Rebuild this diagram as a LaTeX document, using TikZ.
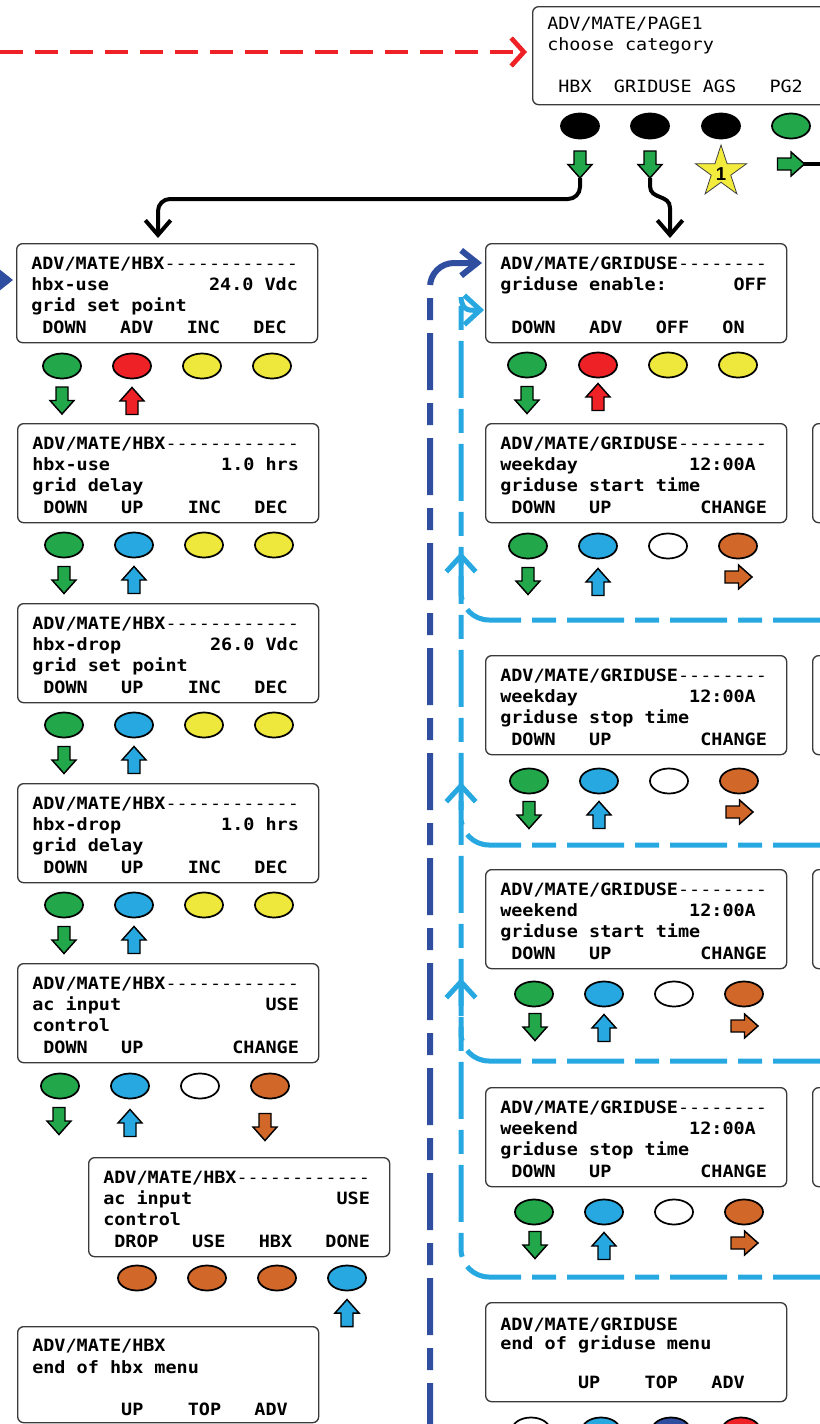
\documentclass[tikz,border=0pt]{standalone}
\usepackage{fontspec}
\setmonofont[FakeStretch=1.09]{DejaVu Sans Mono}
\newfontfamily\starfont{Liberation Sans}
\usetikzlibrary{arrows.meta,shapes.geometric}
\definecolor{cgreen}{HTML}{22A84A}
\definecolor{cred}{HTML}{EE2226}
\definecolor{cyellow}{HTML}{EFE83C}
\definecolor{cblue}{HTML}{27A8E0}
\definecolor{corange}{HTML}{D2672A}
\definecolor{cdblue}{HTML}{2F4E9F}
\definecolor{cbox}{HTML}{3A3A3A}
\definecolor{cstar}{HTML}{F3EC3D}
\tikzset{
  lcd/.style={draw=cbox, line width=1pt, rounded corners=4.5pt, fill=white, minimum width=225.75pt, minimum height=74.25pt, inner sep=0pt, anchor=north west},
  txt/.style={font=\ttfamily\bfseries\fontsize{12.7}{15}\selectfont, inner sep=0pt, anchor=base west},
  txtr/.style={font=\ttfamily\fontsize{12.7}{15}\selectfont, inner sep=0pt, anchor=base west},
  btn/.style={ellipse, draw=black, line width=1.3pt, minimum width=28.5pt, minimum height=18.75pt, inner sep=0pt},
  ba/.style={draw=black, line width=1.1pt, line join=miter},
  conn/.style={draw=black, line width=3pt, -{Straight Barb[length=11pt,width=19pt]}},
  reddash/.style={draw=cred, line width=3.5pt, dash pattern=on 17.25pt off 9pt, -{Straight Barb[length=9.5pt,width=21pt]}},
  dbdash/.style={draw=cdblue, line width=4.5pt, dash pattern=on 42.75pt off 9.75pt on 16.5pt off 9.75pt, -{Straight Barb[length=12pt,width=19pt]}},
  lbdash/.style={draw=cblue, line width=3.75pt, dash pattern=on 42.75pt off 8.25pt on 18pt off 8.25pt, -{Straight Barb[length=12pt,width=22pt]}},
}
\newcommand\lcdfour[7]{%
  \node[lcd] (#1) at (#2,#3) {};
  \node[txt] (#1-a) at (#2+15,#3+26) {#4};
  \node[txt] (#1-b) at (#2+15,#3+47) {#5};
  \node[txt] (#1-c) at (#2+15,#3+68) {#6};
  \node[txt] (#1-d) at (#2+15,#3+90) {#7};}
\newcommand\lcdbtn[4]{\node[btn, fill=#4] (#1) at (#2,#3) {};}
\newcommand\barr[4]{\draw[ba, fill=#4, shift={(#1,#2)}, rotate=#3] (-6,-13.5) -- (6,-13.5) -- (6,0) -- (12,0) -- (0,13.5) -- (-12,0) -- (-6,0) -- cycle;}
\begin{document}
\begin{tikzpicture}[x=0.75pt,y=-0.75pt]
\path[use as bounding box] (0,0) rectangle (820,1424);
\clip (0,0) rectangle (820,1424);

% ---------- connectors ----------
\coordinate (redS) at (0,52);
\coordinate (redE) at (527,52);
\draw[reddash] (redS) -- (redE);

\coordinate (dbS) at (430,1440);
\coordinate (g1db) at (482,263);
\draw[dbdash, rounded corners=18pt] (dbS) |- (g1db);
\coordinate (dbL) at (-25,280);
\coordinate (h1db) at (13,280);
\draw[dbdash] (dbL) -- (h1db);

\coordinate (lb1) at (830,620);  \coordinate (lb1e) at (461,552);
\coordinate (lb2) at (830,845);  \coordinate (lb2e) at (461,782);
\coordinate (lb3) at (830,1061); \coordinate (lb3e) at (461,978);
\coordinate (lb4) at (830,1277); \coordinate (lbtop) at (461,324);
\coordinate (g1lb) at (484,310);
\draw[lbdash, rounded corners=21pt] (lb1) -| (lb1e);
\draw[lbdash, rounded corners=21pt] (lb2) -| (lb2e);
\draw[lbdash, rounded corners=21pt] (lb3) -| (lb3e);
\draw[lbdash, rounded corners=21pt] (lb4) -| (lbtop) to[out=90,in=180] (g1lb);

\coordinate (ahbx) at (580,178);
\coordinate (h1in) at (158,238);
\draw[conn, rounded corners=9pt] (ahbx) |- (158,199) -- (h1in);
\coordinate (agu) at (650,178);
\coordinate (g1in) at (670,238);
\draw[conn] (agu) -- (650,186) .. controls (650,200) and (670,194) .. (670,208) -- (g1in);
\coordinate (apg2) at (803,164);
\coordinate (pg2out) at (830,164);
\draw[draw=black, line width=3pt] (apg2) -- (pg2out);

% ---------- top menu ----------
\node[lcd, minimum height=73.5pt] (p1) at (532,6) {};
\node[txtr] (p1-a) at (547,29) {ADV/MATE/PAGE1};
\node[txtr] (p1-b) at (547,50) {choose~category};
\node[txtr] (p1-d) at (547,92) {~HBX~~GRIDUSE~AGS~~~PG2};
\lcdbtn{p1b1}{580}{126}{black}
\lcdbtn{p1b2}{650}{126}{black}
\lcdbtn{p1b3}{721}{126}{black}
\lcdbtn{p1b4}{791}{126}{cgreen}
\barr{580}{164.5}{0}{cgreen}
\barr{650}{164.5}{0}{cgreen}
\barr{791}{164}{90}{cgreen}
\draw[fill=cstar, draw=black!75, line width=0.6pt, shift={(721,172)}] (-90:27) -- (-54:10.3) -- (-18:27) -- (18:10.3) -- (54:27) -- (90:10.3) -- (126:27) -- (162:10.3) -- (198:27) -- (234:10.3) -- cycle;
\node[font=\starfont\bfseries\fontsize{14}{14}\selectfont, inner sep=0pt] (star1) at (721,174) {1};

% ---------- HBX column ----------
\lcdfour{h1}{16}{243}{ADV/MATE/HBX{\mdseries ------------}}{hbx-use~~~~~~~~~24.0~Vdc}{grid~set~point}{~DOWN~~~ADV~~~INC~~~DEC}
\lcdbtn{h1b1}{62}{366}{cgreen}
\lcdbtn{h1b2}{132}{366}{cred}
\lcdbtn{h1b3}{202}{366}{cyellow}
\lcdbtn{h1b4}{272}{366}{cyellow}
\barr{62}{400.5}{0}{cgreen}
\barr{132}{401}{180}{cred}

\lcdfour{h2}{17}{423}{ADV/MATE/HBX{\mdseries ------------}}{hbx-use~~~~~~~~~~1.0~hrs}{grid~delay}{~DOWN~~~UP~~~~INC~~~DEC}
\lcdbtn{h2b1}{64}{545}{cgreen}
\lcdbtn{h2b2}{134}{545}{cblue}
\lcdbtn{h2b3}{204}{545}{cyellow}
\lcdbtn{h2b4}{274}{545}{cyellow}
\barr{64}{580}{0}{cgreen}
\barr{134}{580}{180}{cblue}

\lcdfour{h3}{17}{603}{ADV/MATE/HBX{\mdseries ------------}}{hbx-drop~~~~~~~~26.0~Vdc}{grid~set~point}{~DOWN~~~UP~~~~INC~~~DEC}
\lcdbtn{h3b1}{64}{725}{cgreen}
\lcdbtn{h3b2}{134}{725}{cblue}
\lcdbtn{h3b3}{204}{725}{cyellow}
\lcdbtn{h3b4}{274}{725}{cyellow}
\barr{64}{760}{0}{cgreen}
\barr{134}{760}{180}{cblue}

\lcdfour{h4}{17}{783}{ADV/MATE/HBX{\mdseries ------------}}{hbx-drop~~~~~~~~~1.0~hrs}{grid~delay}{~DOWN~~~UP~~~~INC~~~DEC}
\lcdbtn{h4b1}{64}{905}{cgreen}
\lcdbtn{h4b2}{134}{905}{cblue}
\lcdbtn{h4b3}{204}{905}{cyellow}
\lcdbtn{h4b4}{274}{905}{cyellow}
\barr{64}{940}{0}{cgreen}
\barr{134}{940}{180}{cblue}

\lcdfour{h5}{17}{963}{ADV/MATE/HBX{\mdseries ------------}}{ac~input~~~~~~~~~~~~~USE}{control}{~DOWN~~~UP~~~~~~~~CHANGE}
\lcdbtn{h5b1}{60}{1086}{cgreen}
\lcdbtn{h5b2}{130}{1086}{cblue}
\lcdbtn{h5b3}{200}{1086}{white}
\lcdbtn{h5b4}{270}{1086}{corange}
\barr{59}{1121}{0}{cgreen}
\barr{130}{1123}{180}{cblue}
\barr{265}{1127}{0}{corange}

\lcdfour{h6}{88}{1157}{ADV/MATE/HBX{\mdseries ------------}}{ac~input~~~~~~~~~~~~~USE}{control}{~DROP~~~USE~~~HBX~~~DONE}
\lcdbtn{h6b1}{137}{1278}{corange}
\lcdbtn{h6b2}{207}{1278}{corange}
\lcdbtn{h6b3}{277}{1278}{corange}
\lcdbtn{h6b4}{347}{1278}{cblue}
\barr{347}{1313}{180}{cblue}

\node[lcd, minimum height=72pt] (h7) at (17,1326) {};
\node[txt] (h7-a) at (32,1351) {ADV/MATE/HBX};
\node[txt] (h7-b) at (32,1373) {end~of~hbx~menu};
\node[txt] (h7-d) at (32,1415) {~~~~~~~~UP~~~~TOP~~~ADV};

% ---------- GRIDUSE column ----------
\lcdfour{g1}{485}{243}{ADV/MATE/GRIDUSE{\mdseries --------}}{griduse~enable:~~~~~~OFF}{}{~DOWN~~~ADV~~~OFF~~~ON}
\lcdbtn{g1b1}{527}{365}{cgreen}
\lcdbtn{g1b2}{598}{365}{cred}
\lcdbtn{g1b3}{668}{365}{cyellow}
\lcdbtn{g1b4}{738}{365}{cyellow}
\barr{527}{400}{0}{cgreen}
\barr{598}{397}{180}{cred}

\lcdfour{g2}{485}{423}{ADV/MATE/GRIDUSE{\mdseries --------}}{weekday~~~~~~~~~~12:00A}{griduse~start~time}{~DOWN~~~UP~~~~~~~~CHANGE}
\lcdbtn{g2b1}{528}{546}{cgreen}
\lcdbtn{g2b2}{598}{546}{cblue}
\lcdbtn{g2b3}{668}{546}{white}
\lcdbtn{g2b4}{738}{546}{corange}
\barr{528}{581}{0}{cgreen}
\barr{598}{582}{180}{cblue}
\barr{738.5}{577}{90}{corange}

\lcdfour{g3}{485}{655}{ADV/MATE/GRIDUSE{\mdseries --------}}{weekday~~~~~~~~~~12:00A}{griduse~stop~time}{~DOWN~~~UP~~~~~~~~CHANGE}
\lcdbtn{g3b1}{529}{781}{cgreen}
\lcdbtn{g3b2}{599}{781}{cblue}
\lcdbtn{g3b3}{669}{781}{white}
\lcdbtn{g3b4}{739}{781}{corange}
\barr{529}{815}{0}{cgreen}
\barr{599}{815}{180}{cblue}
\barr{739.5}{812}{90}{corange}

\lcdfour{g4}{485}{869}{ADV/MATE/GRIDUSE{\mdseries --------}}{weekend~~~~~~~~~~12:00A}{griduse~start~time}{~DOWN~~~UP~~~~~~~~CHANGE}
\lcdbtn{g4b1}{534}{994}{cgreen}
\lcdbtn{g4b2}{604}{994}{cblue}
\lcdbtn{g4b3}{674}{994}{white}
\lcdbtn{g4b4}{744}{994}{corange}
\barr{535}{1027}{0}{cgreen}
\barr{604}{1028}{180}{cblue}
\barr{744.5}{1026}{90}{corange}

\lcdfour{g5}{485}{1087}{ADV/MATE/GRIDUSE{\mdseries --------}}{weekend~~~~~~~~~~12:00A}{griduse~stop~time}{~DOWN~~~UP~~~~~~~~CHANGE}
\lcdbtn{g5b1}{534}{1212}{cgreen}
\lcdbtn{g5b2}{604}{1212}{cblue}
\lcdbtn{g5b3}{674}{1212}{white}
\lcdbtn{g5b4}{744}{1212}{corange}
\barr{535}{1245}{0}{cgreen}
\barr{604}{1246}{180}{cblue}
\barr{744.5}{1243}{90}{corange}

\node[lcd] (g6) at (485,1302) {};
\node[txt] (g6-a) at (500,1330) {ADV/MATE/GRIDUSE};
\node[txt] (g6-b) at (500,1349) {end~of~griduse~menu};
\node[txt] (g6-d) at (500,1388) {~~~~~~~UP~~~~TOP~~~ADV};
\lcdbtn{g6b1}{531}{1430}{white}
\lcdbtn{g6b2}{601}{1430}{cblue}
\lcdbtn{g6b3}{671}{1430}{cdblue}
\lcdbtn{g6b4}{741}{1430}{cred}

% ---------- partial boxes at right edge ----------
\node[lcd] (r2) at (812,423) {};
\node[lcd] (r3) at (812,655) {};
\node[lcd] (r4) at (812,869) {};
\node[lcd] (r5) at (812,1087) {};
\end{tikzpicture}
\end{document}
